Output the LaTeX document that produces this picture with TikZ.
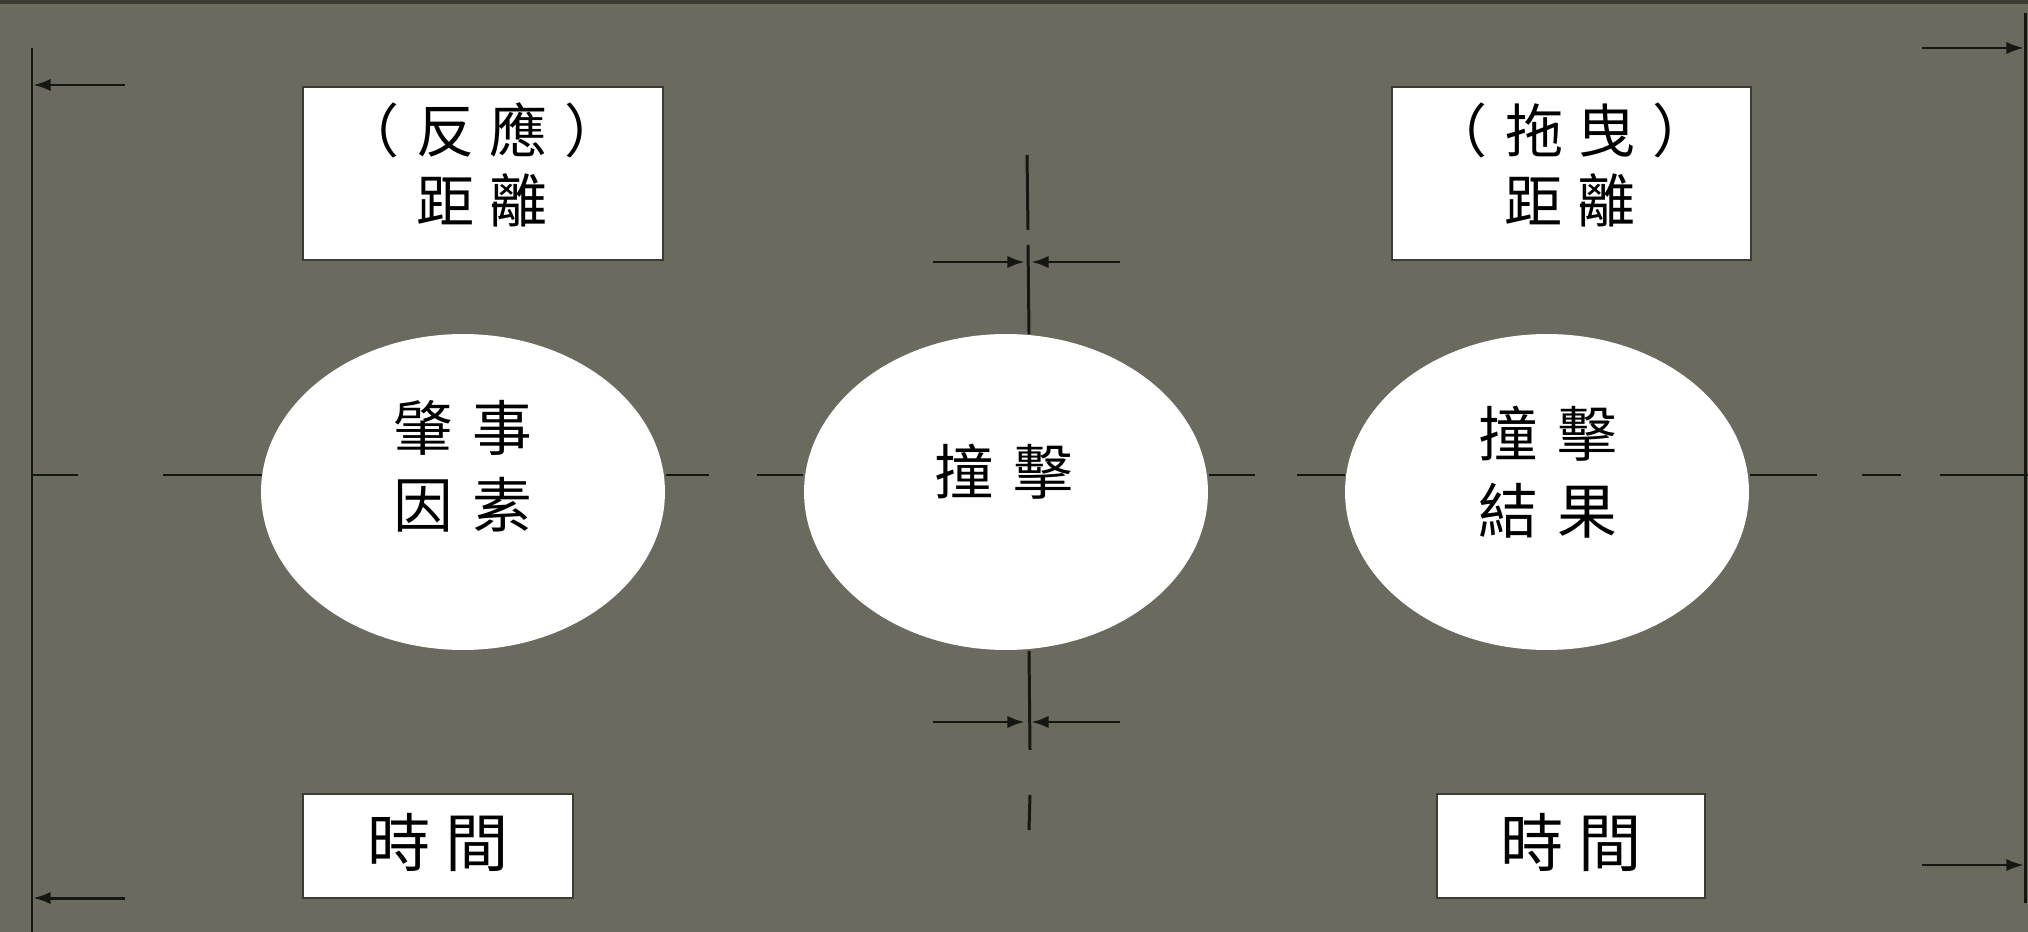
\documentclass[tikz,border=0pt]{standalone}
\usepackage{fontspec}
\newfontfamily\cjk{Noto Sans CJK TC}
\usetikzlibrary{arrows.meta,shapes.geometric}
\definecolor{bg}{RGB}{106,106,94}
\definecolor{ln}{RGB}{22,22,18}
\definecolor{bd}{RGB}{60,60,52}
\begin{document}
\begin{tikzpicture}[x=0.02cm,y=-0.02cm,
  line/.style={draw=ln,line width=1.7pt},
  arr/.style={line,-{Latex[length=10pt,width=7pt]}},
  box/.style={draw=bd,line width=1.2pt,fill=white,inner sep=0pt},
  oval/.style={ellipse,fill=white,inner sep=0pt,minimum width=8.08cm,minimum height=6.32cm},
  txt/.style={font=\cjk\fontsize{33}{40}\selectfont,align=center,inner sep=0pt,text=black},
  otxt/.style={font=\cjk\fontsize{34}{44}\selectfont,align=center,inner sep=0pt,text=black},
  ttxt/.style={font=\cjk\fontsize{36}{40}\selectfont,align=center,inner sep=0pt,text=black}]
\fill[bg] (0,0) rectangle (2028,932);
\useasboundingbox (0,0) rectangle (2028,932);
\fill[bd] (0,0) rectangle (2028,4);

% boxes
\node[box,minimum width=7.2cm,minimum height=3.46cm] (b1) at (483,173.5) {};
\node[box,minimum width=7.18cm,minimum height=3.46cm] (b2) at (1571.5,173.5) {};
\node[box,minimum width=5.4cm,minimum height=2.08cm] (b3) at (438,846) {};
\node[box,minimum width=5.36cm,minimum height=2.08cm] (b4) at (1571,846) {};
\node[txt] (t1) at (482,165) {（\hspace{10pt}反\hspace{8pt}應\hspace{10pt}）\\距\hspace{9pt}離};
\node[txt] (t2) at (1570,165) {（\hspace{10pt}拖\hspace{8pt}曳\hspace{10pt}）\\距\hspace{9pt}離};
\node[ttxt] (t3) at (438,842) {時\hspace{8pt}間};
\node[ttxt] (t4) at (1571,842) {時\hspace{8pt}間};

% horizontal centre line segments
\coordinate (h0) at (32,475);   \coordinate (h1) at (78,475);
\coordinate (h2) at (163,475);  \coordinate (h3) at (262,475);
\coordinate (h4) at (666,475);  \coordinate (h5) at (709,475);
\coordinate (h6) at (757,475);  \coordinate (h7) at (803,475);
\coordinate (h8) at (1209,475); \coordinate (h9) at (1255,475);
\coordinate (h10) at (1297,475);\coordinate (h11) at (1345,475);
\coordinate (h12) at (1750,475);\coordinate (h13) at (1817,475);
\coordinate (h14) at (1862,475);\coordinate (h15) at (1901,475);
\coordinate (h16) at (1940,475);\coordinate (h17) at (2028,475);
\draw[line] (h0)--(h1) (h2)--(h3) (h4)--(h5) (h6)--(h7) (h8)--(h9)
  (h10)--(h11) (h12)--(h13) (h14)--(h15) (h16)--(h17);

% vertical centre line segments
\coordinate (v0) at (1027,155); \coordinate (v1) at (1028,230);
\coordinate (v2) at (1028,245); \coordinate (v3) at (1029,334);
\coordinate (v4) at (1029,651); \coordinate (v5) at (1030,750);
\coordinate (v6) at (1030,795); \coordinate (v7) at (1029,830);
\draw[line] (v0)--(v1) (v2)--(v3) (v4)--(v5) (v6)--(v7);

% ellipses
\node[oval] (c1) at (463,492) {};
\node[oval] (c2) at (1006,492) {};
\node[oval] (c3) at (1547,492) {};
\node[otxt] (e1) at (463,466) {肇\hspace{11pt}事\\因\hspace{11pt}素};
\node[otxt] (e2) at (1004,472) {撞\hspace{11pt}擊};
\node[otxt] (e3) at (1548,472) {撞\hspace{11pt}擊\\結\hspace{11pt}果};

% side vertical lines
\coordinate (l0) at (32,48);   \coordinate (l1) at (32,932);
\coordinate (r0) at (2025,13); \coordinate (r1) at (2025,903);
\draw[line] (l0)--(l1);
\draw[line] (r0)--(r1);

% side arrows
\coordinate (la1) at (125,85);  \coordinate (la1t) at (33,85);
\coordinate (la2) at (125,898); \coordinate (la2t) at (33,898);
\coordinate (ra1) at (1922,48); \coordinate (ra1t) at (2024,48);
\coordinate (ra2) at (1922,865);\coordinate (ra2t) at (2024,865);
\draw[arr] (la1)--(la1t);
\draw[arr] (la2)--(la2t);
\draw[arr] (ra1)--(ra1t);
\draw[arr] (ra2)--(ra2t);

% centre arrows
\coordinate (ta) at (933,262);  \coordinate (tat) at (1025,262);
\coordinate (tb) at (1120,262); \coordinate (tbt) at (1031,262);
\coordinate (ba) at (933,722);  \coordinate (bat) at (1025,722);
\coordinate (bb) at (1120,722); \coordinate (bbt) at (1031,722);
\draw[arr] (ta)--(tat);
\draw[arr] (tb)--(tbt);
\draw[arr] (ba)--(bat);
\draw[arr] (bb)--(bbt);
\end{tikzpicture}
\end{document}
